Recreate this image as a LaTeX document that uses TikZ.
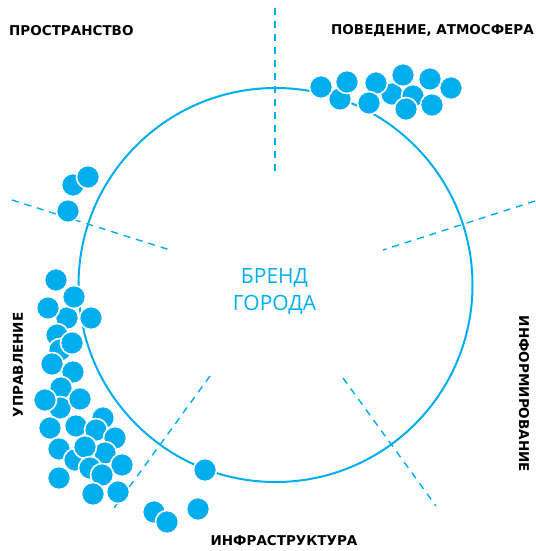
\documentclass[tikz,border=0pt]{standalone}
\usepackage{fontspec}
\setmainfont{Open Sans}
\newfontfamily\lblfont{DejaVu Sans}
\begin{document}
\begin{tikzpicture}[x=1pt,y=-1pt,
  every node/.style={inner sep=0pt},
  lbl/.style={font=\lblfont\fontsize{13.5}{15}\selectfont\bfseries, text=black},
  dot/.style={fill=brandblue, draw=white, line width=1.6pt},
  sector/.style={draw=brandblue, line width=1.4pt, dash pattern=on 7pt off 6pt}]
\definecolor{brandblue}{HTML}{00AEEF}
\useasboundingbox (0,0) rectangle (535,551);
% main circle
\coordinate (c) at (275.5,285);
\draw[brandblue, line width=2pt] (c) circle[radius=197];
% sector lines
\coordinate (t1) at (275,8);   \coordinate (t2) at (275,172);
\coordinate (l1) at (12,200);  \coordinate (l2) at (170,250);
\coordinate (r1) at (535,201); \coordinate (r2) at (383,250);
\coordinate (bl1) at (210,376); \coordinate (bl2) at (114,508);
\coordinate (br1) at (343,378); \coordinate (br2) at (436,506);
\draw[sector] (t1) -- (t2);
\draw[sector] (l1) -- (l2);
\draw[sector] (r1) -- (r2);
\draw[sector] (bl1) -- (bl2);
\draw[sector] (br1) -- (br2);
% centre text
\node[text=brandblue, font=\fontsize{21}{27}\selectfont, align=center] (brand) at (274.5,291) {БРЕНД\\ГОРОДА};
% labels
\node[lbl, anchor=west] (prostr) at (9,31) {ПРОСТРАНСТВО};
\node[lbl, anchor=east] (poved) at (534,31) {ПОВЕДЕНИЕ, АТМОСФЕРА};
\node[lbl] (infra) at (284,541) {ИНФРАСТРУКТУРА};
\node[lbl, rotate=90] (upr) at (18,365) {УПРАВЛЕНИЕ};
\node[lbl, rotate=-90] (inform) at (524,394) {ИНФОРМИРОВАНИЕ};
% dots
\foreach \x/\y in {
  340/99, 392/94, 413/96, 321/87, 347/82, 376/83, 369/103, 403/75, 430/79, 451/88, 406/109, 432/105,
  73/185, 88/177, 68/211,
  56/280, 67/318, 74/297, 48/308, 91/318, 57/335, 60/350, 72/343, 52/364, 73/372, 61/388, 60/408, 45/400, 80/399,
  103/418, 50/428, 76/426, 96/430, 115/438, 59/449, 75/460, 105/453, 85/447, 90/468, 122/465, 102/475, 59/478, 93/494, 118/492,
  205/470, 154/512, 167/522, 198/509}
  \path[dot] (\x,\y) circle[radius=11.5];
\end{tikzpicture}
\end{document}
